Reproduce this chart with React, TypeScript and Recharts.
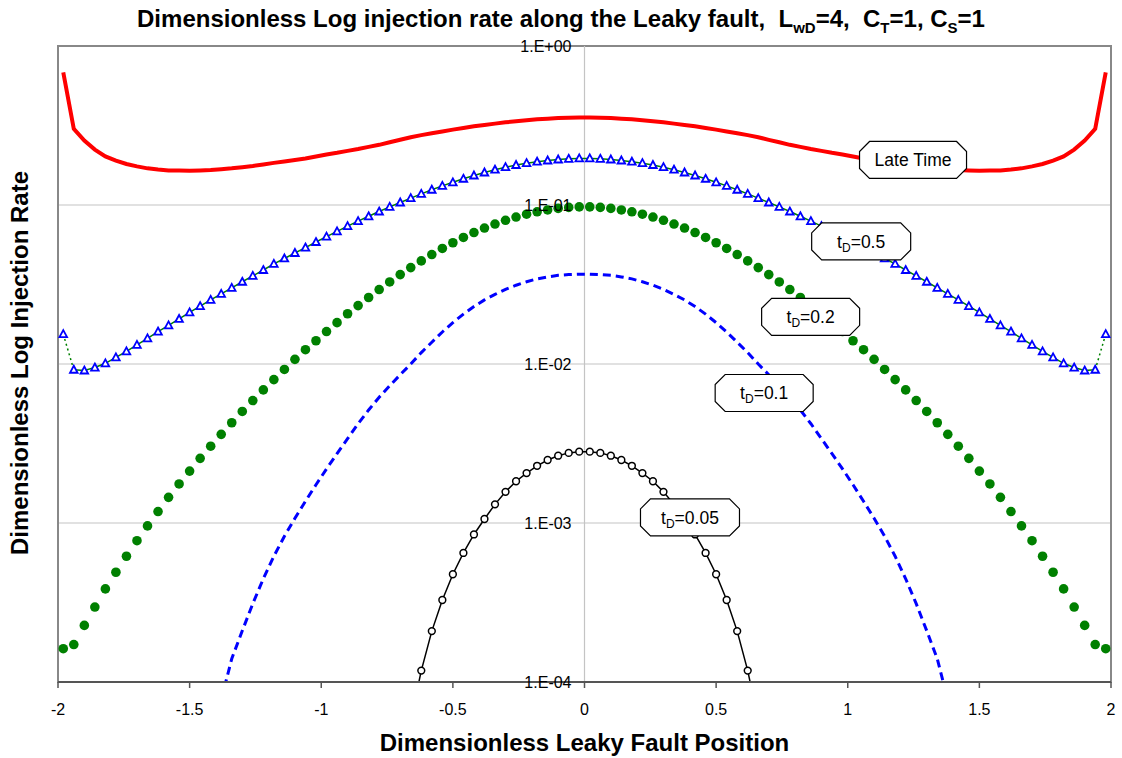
import React from 'react';
import {
  LineChart,
  Line,
  XAxis,
  YAxis,
  CartesianGrid,
  ReferenceLine,
  ReferenceArea,
  ReferenceDot
} from 'recharts';

const _ = null;

// dimensionless position along the fault
const X = [
  -1.98, -1.94, -1.9, -1.86, -1.82, -1.78, -1.74, -1.7, -1.66, -1.62,
  -1.58, -1.54, -1.5, -1.46, -1.42, -1.38, -1.34, -1.3, -1.26, -1.22,
  -1.18, -1.14, -1.1, -1.06, -1.02, -0.98, -0.94, -0.9, -0.86, -0.82,
  -0.78, -0.74, -0.7, -0.66, -0.62, -0.58, -0.54, -0.5, -0.46, -0.42,
  -0.38, -0.34, -0.3, -0.26, -0.22, -0.18, -0.14, -0.1, -0.06, -0.02,
  0.02, 0.06, 0.1, 0.14, 0.18, 0.22, 0.26, 0.3, 0.34, 0.38,
  0.42, 0.46, 0.5, 0.54, 0.58, 0.62, 0.66, 0.7, 0.74, 0.78,
  0.82, 0.86, 0.9, 0.94, 0.98, 1.02, 1.06, 1.1, 1.14, 1.18,
  1.22, 1.26, 1.3, 1.34, 1.38, 1.42, 1.46, 1.5, 1.54, 1.58,
  1.62, 1.66, 1.7, 1.74, 1.78, 1.82, 1.86, 1.9, 1.94, 1.98
];

const LATE_TIME = [
  0.682, 0.301, 0.254, 0.223, 0.202, 0.19, 0.181, 0.175, 0.17, 0.167,
  0.165, 0.165, 0.1645, 0.165, 0.166, 0.168, 0.17, 0.173, 0.176, 0.18,
  0.184, 0.188, 0.192, 0.196, 0.202, 0.208, 0.213, 0.219, 0.225, 0.232,
  0.239, 0.248, 0.257, 0.267, 0.275, 0.283, 0.29, 0.298, 0.305, 0.313,
  0.319, 0.325, 0.331, 0.336, 0.341, 0.346, 0.349, 0.352, 0.354, 0.355,
  0.355, 0.354, 0.352, 0.349, 0.346, 0.341, 0.336, 0.331, 0.325, 0.319,
  0.313, 0.305, 0.298, 0.29, 0.283, 0.275, 0.267, 0.257, 0.248, 0.239,
  0.232, 0.225, 0.219, 0.213, 0.208, 0.202, 0.196, 0.192, 0.188, 0.184,
  0.18, 0.176, 0.173, 0.17, 0.168, 0.166, 0.165, 0.1645, 0.165, 0.165,
  0.167, 0.17, 0.175, 0.181, 0.19, 0.202, 0.223, 0.254, 0.301, 0.682
];

const TD_05 = [
  0.0154, 0.0092, 0.0091, 0.0095, 0.0101, 0.011, 0.012, 0.0132, 0.0145, 0.016,
  0.0175, 0.0192, 0.0211, 0.0231, 0.0253, 0.0276, 0.0301, 0.0329, 0.0358, 0.039,
  0.0426, 0.0461, 0.0499, 0.054, 0.0585, 0.0633, 0.0683, 0.0736, 0.0791, 0.0849,
  0.091, 0.0973, 0.1037, 0.1104, 0.1174, 0.1247, 0.1319, 0.1389, 0.1462, 0.1533,
  0.1601, 0.1667, 0.1729, 0.1785, 0.1832, 0.1872, 0.1905, 0.1933, 0.1953, 0.1964,
  0.1964, 0.1953, 0.1933, 0.1905, 0.1872, 0.1832, 0.1785, 0.1729, 0.1667, 0.1601,
  0.1533, 0.1462, 0.1389, 0.1319, 0.1247, 0.1174, 0.1104, 0.1037, 0.0973, 0.091,
  0.0849, 0.0791, 0.0736, 0.0683, 0.0633, 0.0585, 0.054, 0.0499, 0.0461, 0.0426,
  0.039, 0.0358, 0.0329, 0.0301, 0.0276, 0.0253, 0.0231, 0.0211, 0.0192, 0.0175,
  0.016, 0.0145, 0.0132, 0.012, 0.011, 0.0101, 0.0095, 0.0091, 0.0092, 0.0154
];

const TD_02 = [
  0.000162, 0.000172, 0.000227, 0.000296, 0.000385, 0.00049, 0.000618, 0.000774, 0.000959, 0.00118,
  0.00145, 0.00176, 0.00212, 0.00255, 0.00304, 0.00361, 0.00427, 0.00503, 0.00589, 0.00687,
  0.00798, 0.00924, 0.0107, 0.0123, 0.014, 0.016, 0.0182, 0.0207, 0.0233, 0.0262,
  0.0294, 0.0328, 0.0365, 0.0404, 0.0445, 0.0488, 0.0533, 0.0579, 0.0625, 0.0671,
  0.0716, 0.0759, 0.0801, 0.084, 0.0875, 0.0906, 0.0931, 0.0952, 0.0966, 0.0973,
  0.0973, 0.0966, 0.0952, 0.0931, 0.0906, 0.0875, 0.084, 0.0801, 0.0759, 0.0716,
  0.0671, 0.0625, 0.0579, 0.0533, 0.0488, 0.0445, 0.0404, 0.0365, 0.0328, 0.0294,
  0.0262, 0.0233, 0.0207, 0.0182, 0.016, 0.014, 0.0123, 0.0107, 0.00924, 0.00798,
  0.00687, 0.00589, 0.00503, 0.00427, 0.00361, 0.00304, 0.00255, 0.00212, 0.00176, 0.00145,
  0.00118, 0.000959, 0.000774, 0.000618, 0.00049, 0.000385, 0.000296, 0.000227, 0.000172, 0.000162
];

const TD_01 = [
  _, _, _, _, _, _, _, _, _, _,
  _, _, _, _, _, 0.0000774, 0.00014, 0.00021, 0.000311, 0.000446,
  0.000618, 0.000826, 0.00107, 0.00137, 0.00174, 0.00219, 0.00273, 0.00339, 0.00421, 0.00514,
  0.00618, 0.0073, 0.00856, 0.01, 0.0118, 0.0137, 0.0159, 0.0182, 0.0206, 0.023,
  0.0253, 0.0274, 0.0295, 0.0313, 0.0329, 0.0343, 0.0353, 0.0361, 0.0365, 0.0367,
  0.0367, 0.0365, 0.0361, 0.0353, 0.0343, 0.0329, 0.0313, 0.0295, 0.0274, 0.0253,
  0.023, 0.0206, 0.0182, 0.0159, 0.0137, 0.0118, 0.01, 0.00856, 0.0073, 0.00618,
  0.00514, 0.00421, 0.00339, 0.00273, 0.00219, 0.00174, 0.00137, 0.00107, 0.000826, 0.000618,
  0.000446, 0.000311, 0.00021, 0.00014, 0.0000774, _, _, _, _, _,
  _, _, _, _, _, _, _, _, _, _
];

const TD_005 = [
  _, _, _, _, _, _, _, _, _, _,
  _, _, _, _, _, _, _, _, _, _,
  _, _, _, _, _, _, _, _, _, _,
  _, _, _, 0.000057, 0.000118, 0.000209, 0.000328, 0.000476, 0.000648, 0.000847,
  0.00106, 0.00131, 0.00157, 0.00183, 0.00206, 0.00229, 0.00249, 0.00265, 0.00276, 0.00281,
  0.00281, 0.00276, 0.00265, 0.00249, 0.00229, 0.00206, 0.00183, 0.00157, 0.00131, 0.00106,
  0.000847, 0.000648, 0.000476, 0.000328, 0.000209, 0.000118, 0.000057, _, _, _,
  _, _, _, _, _, _, _, _, _, _,
  _, _, _, _, _, _, _, _, _, _,
  _, _, _, _, _, _, _, _, _, _
];

const X_TICKS = [-2, -1.5, -1, -0.5, 0, 0.5, 1, 1.5, 2];
const Y_TICKS = [0.0001, 0.001, 0.01, 0.1, 1];

// series callouts, anchored in data coordinates
const CALLOUTS = [
  { label: 'Late Time', sub: '', x: 1.248, y: 0.192, w: 107 },
  { label: 't', sub: '0.5', x: 1.051, y: 0.059, w: 99 },
  { label: 't', sub: '0.2', x: 0.859, y: 0.0198, w: 98 },
  { label: 't', sub: '0.1', x: 0.6825, y: 0.00657, w: 98 },
  { label: 't', sub: '0.05', x: 0.4007, y: 0.001084, w: 99 }
];

const W = 1122;
const H = 758;
// y axis takes 1px, so plot area starts at x=58
const M = { top: 46, right: 11, bottom: 46, left: 57 };
const CENTER_X = 58 + (W - 58 - M.right) / 2;
const FONT = '"Liberation Sans", Arial, Helvetica, sans-serif';

const last = X.length - 1;
const data = X.map((x, i) => ({
  x,
  late: LATE_TIME[i],
  t05: TD_05[i],
  t05Line: i > 0 && i < last ? TD_05[i] : null,
  t05Edge: i <= 1 || i >= last - 1 ? TD_05[i] : null,
  t02: TD_02[i],
  t01: TD_01[i],
  t005: TD_005[i]
}));

const sci = (v: number) => {
  const e = Math.round(Math.log10(v));
  return `1.E${e >= 0 ? '+' : '-'}${String(Math.abs(e)).padStart(2, '0')}`;
};

const renderYTick = (props: any) => {
  const { y, payload, index } = props;
  return (
    <text key={`yt-${index}`} x={CENTER_X - 13} y={y} dy="0.35em" textAnchor="end" fontSize={16} fill="#000">
      {sci(payload.value)}
    </text>
  );
};

const Triangle = (props: any) => {
  const { cx, cy, index } = props;
  if (cx == null || cy == null) return <g key={`tri-${index}`} />;
  return (
    <polygon
      key={`tri-${index}`}
      points={`${cx},${cy - 4} ${cx + 3.8},${cy + 3} ${cx - 3.8},${cy + 3}`}
      fill="#fff"
      stroke="#0000ff"
      strokeWidth={1.8}
    />
  );
};

const Callout = ({ cx, cy, c }: { cx: number; cy: number; c: any }) => {
  const h = 37;
  const k = 10;
  const x0 = cx - c.w / 2;
  const x1 = cx + c.w / 2;
  const y0 = cy - h / 2;
  const y1 = cy + h / 2;
  const pts = [
    [x0 + k, y0], [x1 - k, y0], [x1, y0 + k], [x1, y1 - k],
    [x1 - k, y1], [x0 + k, y1], [x0, y1 - k], [x0, y0 + k]
  ].map(p => p.join(',')).join(' ');
  return (
    <g>
      <polygon points={pts} fill="#fff" stroke="#000" strokeWidth={1.2} />
      <text x={cx} y={cy} dy="0.35em" textAnchor="middle" fontSize={17.5} fill="#000">
        {c.sub ? (
          <>
            <tspan>t</tspan>
            <tspan fontSize={12} dy={4}>D</tspan>
            <tspan dy={-4}>={c.sub}</tspan>
          </>
        ) : (
          c.label
        )}
      </text>
    </g>
  );
};

const titleStyle: React.CSSProperties = {
  position: 'absolute',
  whiteSpace: 'pre',
  fontSize: 24,
  lineHeight: '24px',
  fontWeight: 'bold'
};

export default function App() {
  return (
    <div style={{ position: 'relative', width: W, height: H, fontFamily: FONT, background: '#fff' }}>
      <style>{'body{margin:0}'}</style>
      <LineChart width={W} height={H} data={data} margin={M}>
        <CartesianGrid vertical={false} stroke="#c4c4c4" strokeWidth={1.2} />
        <ReferenceLine x={0} stroke="#c4c4c4" strokeWidth={1.2} />
        <ReferenceArea
          x1={-2}
          x2={2}
          y1={0.0001}
          y2={1}
          fill="none"
          fillOpacity={0}
          stroke="#888"
          strokeWidth={2}
          ifOverflow="visible"
        />
        <XAxis
          dataKey="x"
          type="number"
          domain={[-2, 2]}
          ticks={X_TICKS}
          interval={0}
          height={30}
          tickSize={6}
          tickMargin={16}
          axisLine={{ stroke: '#555', strokeWidth: 2 }}
          tickLine={{ stroke: '#555', strokeWidth: 1.5 }}
          tick={{ fill: '#000', fontSize: 16 }}
        />
        <YAxis
          type="number"
          scale="log"
          domain={[0.0001, 1]}
          ticks={Y_TICKS}
          interval={0}
          allowDataOverflow
          width={1}
          axisLine={false}
          tickLine={false}
          tick={renderYTick}
        />
        <Line dataKey="late" stroke="#ff0000" strokeWidth={4} dot={false} isAnimationActive={false} />
        <Line dataKey="t05Edge" stroke="#008000" strokeWidth={1.5} strokeDasharray="2 3" dot={false} isAnimationActive={false} />
        <Line dataKey="t05Line" stroke="#008000" strokeWidth={1.5} dot={false} isAnimationActive={false} />
        <Line dataKey="t05" stroke="none" dot={Triangle} isAnimationActive={false} />
        <Line
          dataKey="t02"
          stroke="none"
          dot={{ r: 4.8, fill: '#008000', stroke: 'none' }}
          isAnimationActive={false}
        />
        <Line
          dataKey="t01"
          stroke="#0000ff"
          strokeWidth={3}
          strokeDasharray="8 5"
          dot={false}
          isAnimationActive={false}
        />
        <Line
          dataKey="t005"
          stroke="#000"
          strokeWidth={1.5}
          dot={{ r: 3.4, fill: '#fff', stroke: '#000', strokeWidth: 1.5 }}
          isAnimationActive={false}
        />
        {CALLOUTS.map((c, i) => (
          <ReferenceDot
            key={i}
            x={c.x}
            y={c.y}
            r={1}
            zIndex={2500}
            shape={(p: any) => <Callout cx={p.cx} cy={p.cy} c={c} />}
          />
        ))}
      </LineChart>

      <div style={{ ...titleStyle, left: 561, top: 7, transform: 'translateX(-50%)' }}>
        Dimensionless Log injection rate along the Leaky fault,  L<sub style={{ fontSize: 15 }}>wD</sub>=4,  C
        <sub style={{ fontSize: 15 }}>T</sub>=1, C<sub style={{ fontSize: 15 }}>S</sub>=1
      </div>
      <div style={{ ...titleStyle, left: CENTER_X, top: 731, transform: 'translateX(-50%)' }}>
        Dimensionless Leaky Fault Position
      </div>
      <div
        style={{
          ...titleStyle,
          left: 20,
          top: 363,
          transform: 'translate(-50%, -50%) rotate(-90deg)'
        }}
      >
        Dimensionless Log Injection Rate
      </div>
    </div>
  );
}
